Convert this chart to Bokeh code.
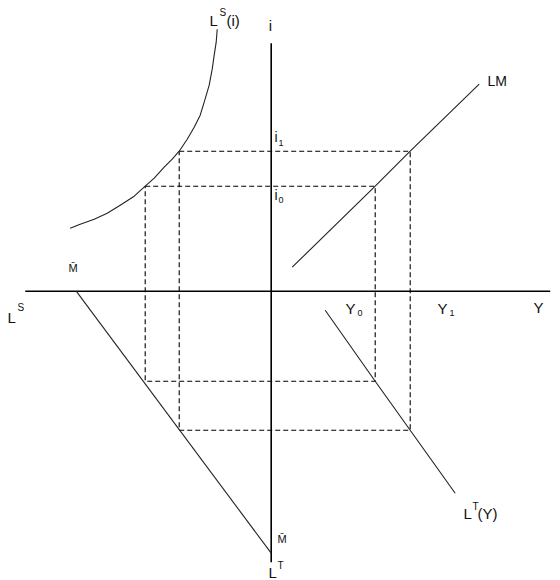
from bokeh.plotting import figure
from bokeh.models import Range1d
from bokeh.core.properties import value
from bokeh.embed import file_html
from bokeh.resources import INLINE

# ---- data (origin at the axes crossing, y up) ----
Y_levels = [104, 139]          # Y0, Y1
i_levels = [105, 140]          # i0, i1
LS_levels = [-126, -92]        # speculative money at i0, i1 (left axis)
LT_levels = [-90, -139]        # transactions money at Y0, Y1 (down axis)

LS_curve_x = [-201, -191, -177, -164, -151, -137, -126, -117, -107, -99,
              -92, -84, -77, -71, -67, -62, -59, -57, -55, -54]
LS_curve_i = [63, 67, 72, 78, 86, 95, 105, 113, 124, 132,
              140, 152, 164, 176, 189, 206, 222, 236, 249, 262]

LM_Y = [21, 104, 139, 208]
LM_i = [24, 105, 140, 207]

LT_Y = [54, 104, 139, 184]
LT_v = [-19, -90, -139, -202]

M_bar_x = [-195, 0]
M_bar_y = [0, -262]

axis_x = [-246, 279]
axis_y = [248, -271]

OX, OY = 270.7, 290.7   # pixel position of the origin in the picture
W, H = 560, 580
SHIFT = 5.5             # svg alphabetic baseline correction

p = figure(width=W, height=H, output_backend="svg", toolbar_location=None,
           x_range=Range1d(-OX, W - OX), y_range=Range1d(OY - H, OY),
           min_border=0)
p.axis.visible = False
p.grid.visible = False
p.outline_line_color = None
p.background_fill_color = "white"

# axes
p.line(axis_x, [0, 0], line_color="black", line_width=1.6)
p.line([0, 0], axis_y, line_color="black", line_width=1.6)

# dashed rectangles
p.quad(left=LS_levels, right=Y_levels, top=i_levels, bottom=LT_levels,
       fill_alpha=0, line_color="black", line_width=1.1, line_dash="5 3")

# curves
p.line(LS_curve_x, LS_curve_i, line_color="#222222", line_width=1.1,
       line_join="round")
p.line(LM_Y, LM_i, line_color="#222222", line_width=1.1)
p.line(LT_Y, LT_v, line_color="#222222", line_width=1.1)
p.line(M_bar_x, M_bar_y, line_color="#222222", line_width=1.1)

FONT = value("Liberation Sans")

def lab(txt, px, py, size, align="left"):
    p.text(x=[px - OX], y=[OY - (py - SHIFT)], text=[txt], text_font=FONT,
           text_font_size=f"{size}px", text_align=align,
           text_baseline="alphabetic", text_color="#111111")

# L^S(i)
lab("L", 209, 25, 15)
lab("S", 219, 17, 10)
lab("(i)", 226, 25, 15)
# i axis
lab("i", 270, 30, 15, "center")
# LM
lab("LM", 487, 86, 14)
# i1, i0
lab("i", 274, 142, 14)
lab("1", 278, 148, 9)
lab("i", 274, 200, 14)
lab("0", 278, 205, 9)
# M bar (left)
lab("M\u0304", 68, 273, 11)
# L^S
lab("L", 7, 322, 15)
lab("S", 17, 312, 10)
# Y0, Y1, Y
lab("Y", 345, 313, 15)
lab("0", 357, 318, 9)
lab("Y", 437, 313, 15)
lab("1", 449, 318, 9)
lab("Y", 533, 312, 15)
# L^T(Y)
lab("L", 463, 518, 15)
lab("T", 472, 511, 10)
lab("(Y)", 477, 518, 15)
# M bar (bottom)
lab("M\u0304", 277, 544, 11)
# L^T
lab("L", 268, 577, 15)
lab("T", 277, 570, 10)

open("out.html", "w").write(file_html(p, INLINE))
